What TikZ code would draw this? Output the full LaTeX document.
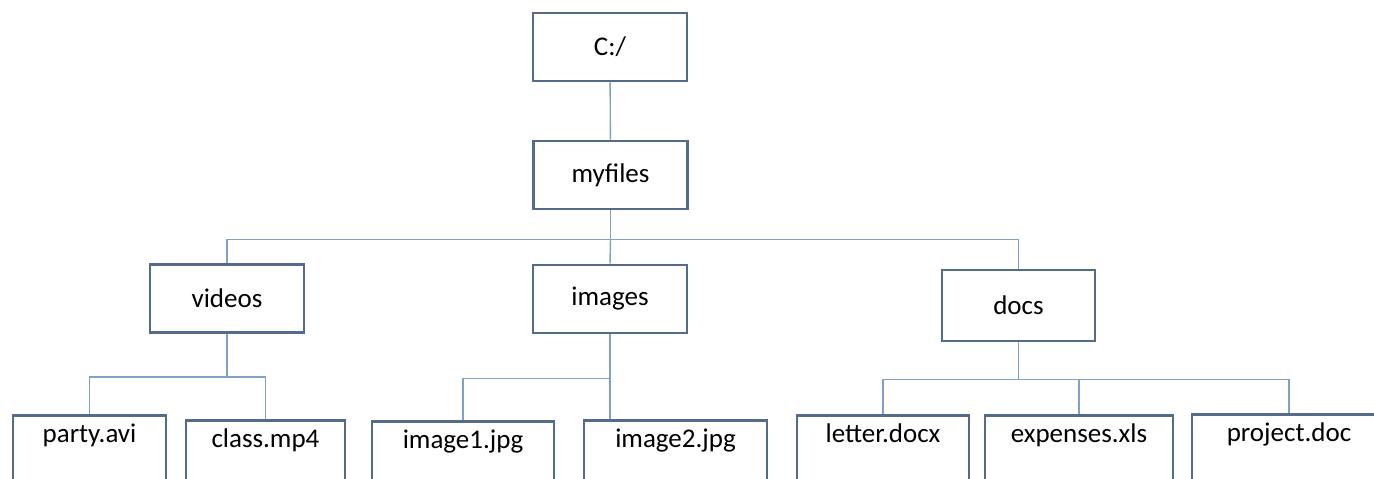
\documentclass[tikz,border=0pt]{standalone}
\usepackage{fontspec}
\setmainfont{Carlito}
\usetikzlibrary{positioning,calc}
\definecolor{boxline}{RGB}{84,108,138}
\definecolor{wire}{RGB}{128,160,198}

\begin{document}
\begin{tikzpicture}[x=1pt,y=-1pt,
  dir/.style={draw=boxline,line width=2.6pt,minimum width=154pt,minimum height=68pt,inner sep=0pt,font=\fontsize{27}{32}\selectfont},
  leaf/.style={draw=boxline,line width=2.6pt,anchor=north,inner ysep=0pt,text height=27pt,text depth=100pt,font=\fontsize{27}{32}\selectfont},
  link/.style={draw=wire,line width=1.4pt}]
\useasboundingbox (0,0) rectangle (1374,479);
\clip (0,0) rectangle (1374,479);
\fill[white] (0,0) rectangle (1374,479);
% folders
\foreach \n/\x/\y/\lab in {root/610/47/{C:/}, myfiles/610.5/175/myfiles,
  videos/227/298.5/videos, images/610/299/images}
  \node[dir] (\n) at (\x,\y) {\lab};
\node[dir,minimum width=153pt,minimum height=71pt] (docs) at (1018.5,305.5) {docs};
% files, cut off by the bottom edge
\foreach \n/\x/\y/\w/\lab in {party/89.5/414/153/party.avi, class/265.5/419/159/class.mp4,
  image1/463/420/182/image1.jpg, image2/675.5/419/183/image2.jpg,
  letter/883/414/172/letter.docx, expenses/1079/414/188/expenses.xls,
  project/1289/413/194/project.doc}
  \node[leaf,minimum width=\w] (\n) at (\x,\y) {\lab};
% links
\draw[link] (root) -- (myfiles);
\draw[link] (myfiles.south) -- ++(0,29) coordinate (bar);
\draw[link] (videos.north) |- (bar) -| (docs.north);
\draw[link] (bar) -- (images.north);
\draw[link] (videos.south) -- ++(0,43) coordinate (vbar);
\draw[link] (party.north) |- (vbar) -| (class.north);
\draw[link] (images.south) -- (images.south |- image2.north);
\draw[link] (image1.north) |- ($(images.south)+(0,44)$);
\draw[link] (docs.south) -- ++(0,37) coordinate (dbar);
\draw[link] (letter.north) |- (dbar) -| (project.north);
\draw[link] (dbar) -| (expenses.north);
\end{tikzpicture}
\end{document}
